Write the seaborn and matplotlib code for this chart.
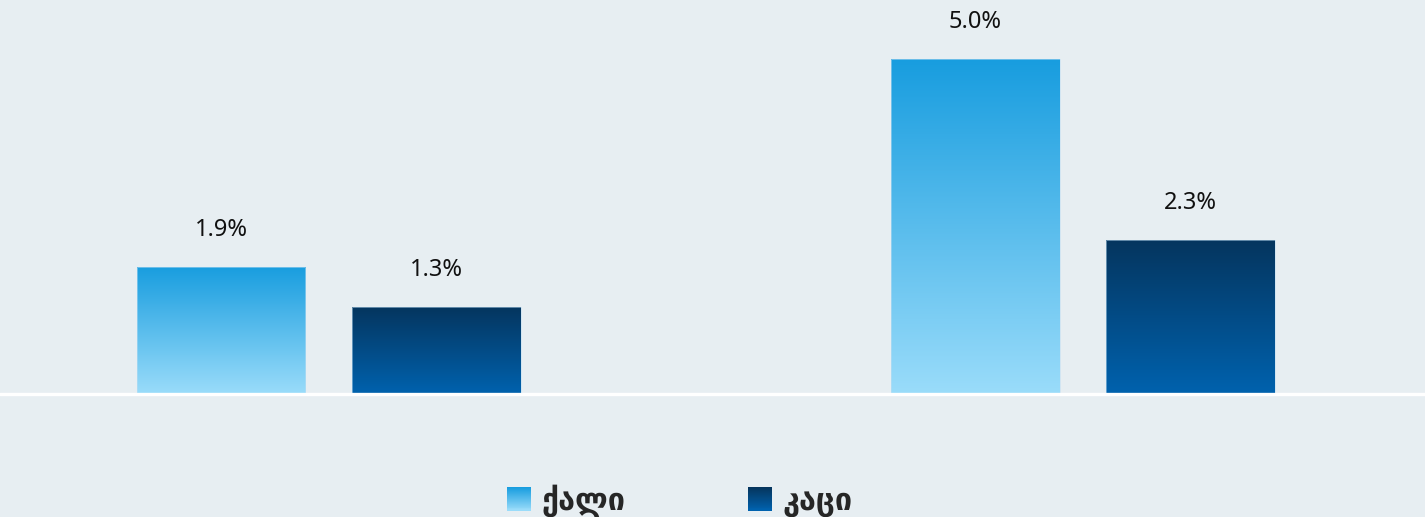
import numpy as np
import pandas as pd
import matplotlib
matplotlib.use("Agg")
import matplotlib.pyplot as plt
from matplotlib.patches import Rectangle
from matplotlib.legend_handler import HandlerBase
from matplotlib.colors import to_rgb
import seaborn as sns

# Data
groups = ["I", "II"]
sexes = ["ქალი", "კაცი"]
women = [1.9, 5.0]
men = [1.3, 2.3]

# Gradient colours (top, bottom) per series
grad_women = ("#189ddf", "#9adcfa")
grad_men = ("#05355e", "#0062ae")
bg = "#e7eef2"

df = pd.DataFrame({
    "group": groups * 2,
    "sex": [sexes[0]] * len(groups) + [sexes[1]] * len(groups),
    "value": women + men,
})

sns.set_theme(style="white")
plt.rcParams["font.family"] = ["Noto Sans", "DejaVu Sans"]

fig = plt.figure(figsize=(14.25, 5.17), dpi=100, facecolor=bg)
ax = fig.add_axes([0, 0.238, 1, 0.762])
ax.set_facecolor(bg)

sns.barplot(data=df, x="group", y="value", hue="sex", order=groups,
            hue_order=sexes, palette=[grad_women[1], grad_men[1]],
            width=0.572, gap=0.217, legend=False, ax=ax)

xlim = (-0.436, 1.4536)
ylim = (0, 5.88)


def gradient(top, bottom, n=256):
    t = np.linspace(0, 1, n)[:, None]
    a = np.array(to_rgb(top))
    b = np.array(to_rgb(bottom))
    return (a * (1 - t) + b * t)[:, None, :]


for cont, grad in zip(ax.containers, [grad_women, grad_men]):
    img = gradient(*grad)
    for bar in cont:
        x0, y0 = bar.get_x(), bar.get_y()
        w, h = bar.get_width(), bar.get_height()
        bar.set_facecolor("none")
        bar.set_edgecolor((0.75, 0.87, 0.95, 0.6))
        bar.set_linewidth(0.6)
        im = ax.imshow(img, extent=[x0, x0 + w, y0, y0 + h], origin="upper",
                       aspect="auto", zorder=bar.get_zorder() - 0.1,
                       interpolation="bilinear")
        im.set_clip_path(bar)
    ax.bar_label(cont, labels=[f"{v:.1f}%" for v in cont.datavalues],
                 padding=18, fontsize=17, color="#111111")

ax.set_xlim(*xlim)
ax.set_ylim(*ylim)
ax.axhline(0, color="white", linewidth=2.4, clip_on=False, zorder=5)
ax.set_xticks([])
ax.set_yticks([])
ax.set_xlabel("")
ax.set_ylabel("")
sns.despine(ax=ax, left=True, bottom=True)


class GradientHandler(HandlerBase):
    def __init__(self, colors, **kw):
        super().__init__(**kw)
        self.colors = colors

    def create_artists(self, legend, orig_handle, xdescent, ydescent,
                       width, height, fontsize, trans):
        n = 24
        top = np.array(to_rgb(self.colors[0]))
        bot = np.array(to_rgb(self.colors[1]))
        arts = []
        for i in range(n):
            t = i / (n - 1)
            c = top * (1 - t) + bot * t
            y = -ydescent + height * (1 - (i + 1) / n)
            r = Rectangle((-xdescent, y), width, height / n + 0.2,
                          facecolor=c, edgecolor="none", transform=trans)
            arts.append(r)
        return arts


h1 = Rectangle((0, 0), 1, 1)
h2 = Rectangle((0, 0), 1, 1)
fig.legend([h1, h2], sexes, loc="lower left",
           bbox_to_anchor=(507 / 1425, 0.0), bbox_transform=fig.transFigure,
           ncol=2, frameon=False, borderpad=0, borderaxespad=0,
           handlelength=0.78, handleheight=0.78, handletextpad=0.36,
           columnspacing=4.0,
           prop={"family": "DejaVu Sans", "weight": "bold", "size": 22},
           handler_map={h1: GradientHandler(grad_women),
                        h2: GradientHandler(grad_men)})

fig.savefig("out.png", dpi=100, facecolor=bg)
